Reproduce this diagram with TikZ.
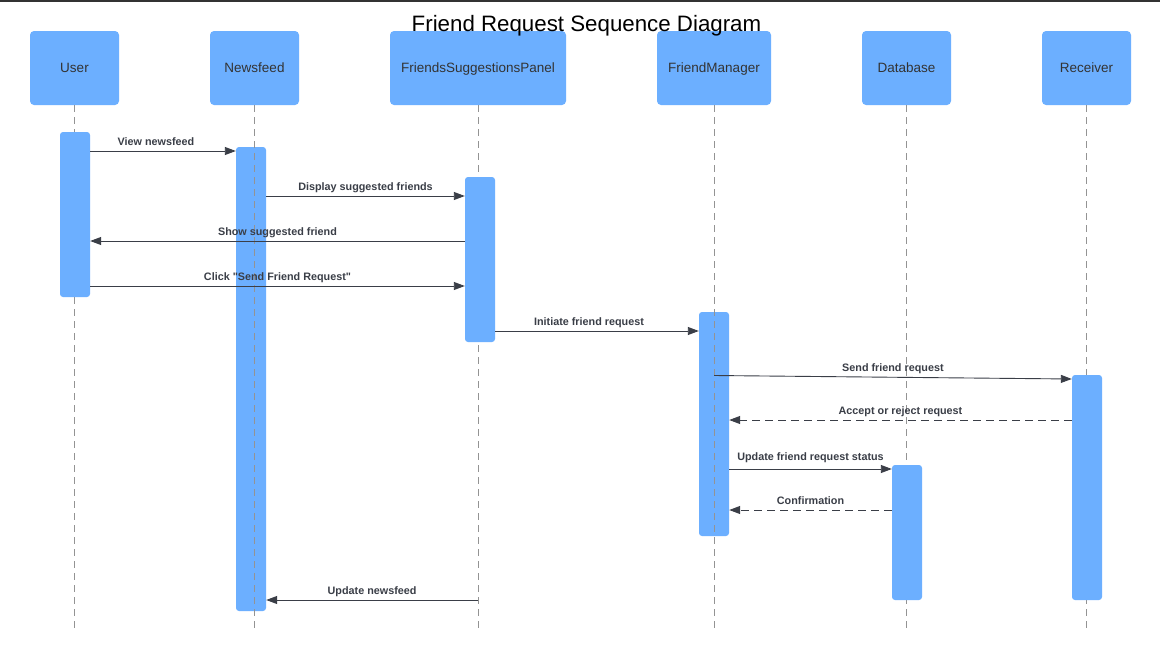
\documentclass[tikz,border=0pt]{standalone}
\usepackage{fontspec}
\setmainfont{Liberation Sans}[Ligatures=TeXOff]
\usetikzlibrary{arrows.meta}
\definecolor{boxblue}{HTML}{6CAFFF}
\definecolor{hdtext}{HTML}{333333}
\definecolor{msgcol}{HTML}{3A3E47}
\definecolor{lifecol}{HTML}{939393}
\begin{document}
\begin{tikzpicture}[x=1pt,y=-1pt,
  header/.style={fill=boxblue, rounded corners=4pt, inner sep=0pt, minimum height=74pt, text height=11pt, text depth=2pt, font=\fontsize{13.5}{16}\selectfont, text=hdtext},
  actbar/.style={fill=boxblue, rounded corners=3pt, minimum width=30pt, inner sep=0pt},
  lifeline/.style={draw=lifecol, line width=1pt, dash pattern=on 7pt off 5pt},
  msg/.style={draw=msgcol, line width=0.9pt, -{Triangle[length=11pt,width=8pt]}},
  reply/.style={msg, dash pattern=on 8pt off 5pt},
  lbl/.style={font=\bfseries\fontsize{10.8}{13}\selectfont, text=msgcol, anchor=base, yshift=6pt, inner sep=0pt}
]
\fill[white] (0,0) rectangle (1160,659);
\useasboundingbox (0,0) rectangle (1160,659);
\draw[line width=1.5pt, color=hdtext] (0,0.75) -- (1160,0.75);

% headers
\node[header, minimum width=89pt] (user) at (74.5,68) {User};
\node[header, minimum width=89pt] (news) at (254.5,68) {Newsfeed};
\node[header, minimum width=176pt] (fsp) at (478,68) {FriendsSuggestionsPanel};
\node[header, minimum width=114pt] (mgr) at (714,68) {FriendManager};
\node[header, minimum width=89pt] (db) at (906.5,68) {Database};
\node[header, minimum width=89pt] (rec) at (1086.5,68) {Receiver};

% lifeline ends
\coordinate (ue) at (74.5,630);
\coordinate (ne) at (254.5,630);
\coordinate (fe) at (478,630);
\coordinate (me) at (714,630);
\coordinate (de) at (906.5,630);
\coordinate (re) at (1086.5,630);

% lifelines behind bars
\draw[lifeline] (user.south) -- (ue);
\draw[lifeline] (fsp.south) -- (fe);
\draw[lifeline] (db.south) -- (de);
\draw[lifeline] (rec.south) -- (re);

% activation bars
\node[actbar, minimum height=165pt] (ubar) at (75,214.5) {};
\node[actbar, minimum height=464pt] (nbar) at (251,379) {};
\node[actbar, minimum height=165pt] (fbar) at (480,259.5) {};
\node[actbar, minimum height=224pt] (mbar) at (714,424) {};
\node[actbar, minimum height=135pt] (dbar) at (907,532.5) {};
\node[actbar, minimum height=225pt] (rbar) at (1087,487.5) {};

% lifelines over bars
\draw[lifeline] (news.south) -- (ne);
\draw[lifeline] (mgr.south) -- (me);

% message rows
\coordinate (y1) at (0,151);
\coordinate (y2) at (0,196);
\coordinate (y3) at (0,241);
\coordinate (y4) at (0,286);
\coordinate (y5) at (0,331);
\coordinate (y6a) at (0,375.5);
\coordinate (y6b) at (0,379);
\coordinate (y7) at (0,420);
\coordinate (y8) at (0,469);
\coordinate (y9) at (0,510);
\coordinate (y10) at (0,600);

\draw[msg] (ubar.east |- y1) -- node[lbl, xshift=-7pt] {View newsfeed} (nbar.west |- y1);
\draw[msg] (nbar.east |- y2) -- node[lbl] {Display suggested friends} (fbar.west |- y2);
\draw[msg] (fbar.west |- y3) -- node[lbl] {Show suggested friend} (ubar.east |- y3);
\draw[msg] (ubar.east |- y4) -- node[lbl] {Click "Send Friend Request"} (fbar.west |- y4);
\draw[msg] (fbar.east |- y5) -- node[lbl, xshift=-8pt] {Initiate friend request} (mbar.west |- y5);
\draw[msg] (mgr.south |- y6a) -- node[lbl] {Send friend request} (rbar.west |- y6b);
\draw[reply] (rbar.west |- y7) -- node[lbl] {Accept or reject request} (mbar.east |- y7);
\draw[msg] (mbar.east |- y8) -- node[lbl, yshift=3pt] {Update friend request status} (dbar.west |- y8);
\draw[reply] (dbar.west |- y9) -- node[lbl] {Confirmation} (mbar.east |- y9);
\draw[msg] (fsp.south |- y10) -- node[lbl] {Update newsfeed} (nbar.east |- y10);

% title
\node[font=\fontsize{22.3}{26}\selectfont, anchor=base, inner sep=0pt] (title) at (586.5,31) {Friend Request Sequence Diagram};
\end{tikzpicture}
\end{document}
